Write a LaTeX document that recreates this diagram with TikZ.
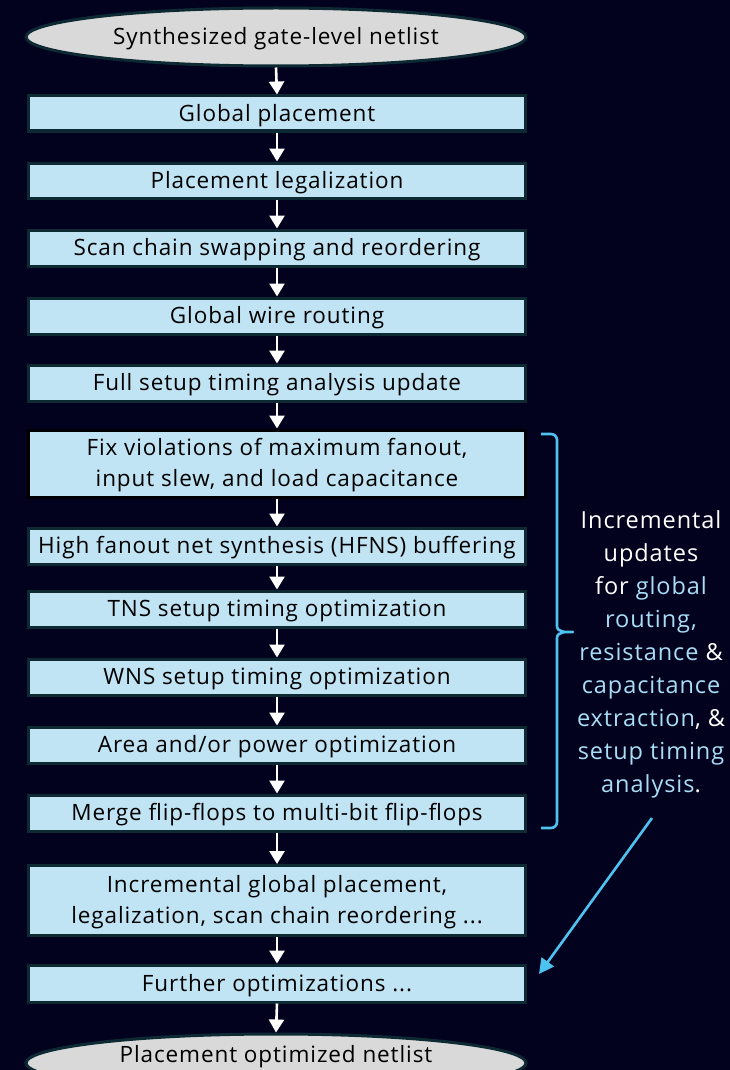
\documentclass[tikz,border=0pt]{standalone}
\usepackage{fontspec}
\setmainfont{Open Sans}[LetterSpace=4]
\usetikzlibrary{arrows.meta,shapes.geometric}
\definecolor{bg}{HTML}{02021F}
\definecolor{boxfill}{HTML}{C0E4F4}
\definecolor{boxline}{HTML}{0D2A34}
\definecolor{ellfill}{HTML}{D9D9D9}
\definecolor{brace}{HTML}{4FC3F0}
\definecolor{lblue}{HTML}{A8DDF5}
\begin{document}
\begin{tikzpicture}[x=1pt,y=-1pt,
  stepbox/.style={draw=boxline,line width=3pt,fill=boxfill,minimum width=497pt,inner sep=0pt,
    font=\fontsize{22.5}{31}\selectfont,text=black,align=center,text depth=1.5pt},
  termnode/.style={ellipse,draw=boxline,line width=3pt,fill=ellfill,minimum width=500pt,minimum height=58pt,
    inner sep=0pt,font=\fontsize{22.5}{24}\selectfont,text=black,text depth=1.5pt},
  flow/.style={draw=white,line width=2.6pt,-{Triangle[width=15pt,length=13pt]}},
  note/.style={font=\fontsize{23.5}{33}\selectfont,text=white,align=center}]
\useasboundingbox (0,0) rectangle (730,1070);
\fill[bg] (0,0) rectangle (730,1070);
\begin{scope}
\clip (0,0) rectangle (730,1070);
\node[termnode] (s) at (276,37) {Synthesized gate-level netlist};
\node[stepbox,minimum height=35pt] (gp) at (277,113.5) {Global placement};
\node[stepbox,minimum height=35pt] (pl) at (277,180.5) {Placement legalization};
\node[stepbox,minimum height=36pt] (sc) at (277,248) {Scan chain swapping and reordering};
\node[stepbox,minimum height=36pt] (gw) at (277,316) {Global wire routing};
\node[stepbox,minimum height=36pt] (fs) at (277,383) {Full setup timing analysis update};
\node[stepbox,draw=black,minimum height=67pt] (fv) at (277,463.5) {Fix violations of maximum fanout,\\input slew, and load capacitance};
\node[stepbox,minimum height=36pt] (hf) at (277,546) {High fanout net synthesis (HFNS) buffering};
\node[stepbox,minimum height=36pt] (tn) at (277,609) {TNS setup timing optimization};
\node[stepbox,minimum height=36pt] (wn) at (277,677) {WNS setup timing optimization};
\node[stepbox,minimum height=36pt] (ar) at (277,745) {Area and/or power optimization};
\node[stepbox,minimum height=36pt] (mg) at (277,813) {Merge flip-flops to multi-bit flip-flops};
\node[stepbox,minimum height=70pt] (in) at (277,900.5) {Incremental global placement,\\legalization, scan chain reordering ...};
\node[stepbox,minimum height=37pt] (fu) at (277,983.5) {Further optimizations ...};
\node[termnode] (e) at (276,1063) {};
\node[font=\fontsize{22.5}{24}\selectfont,text=black,text depth=1.5pt] (et) at (276,1055) {Placement optimized netlist};
\end{scope}
\foreach \a/\b in {s/gp,gp/pl,pl/sc,sc/gw,gw/fs,fs/fv,fv/hf,hf/tn,tn/wn,wn/ar,ar/mg,mg/in,in/fu,fu/e}
  \draw[flow] (\a.south) -- (\b.north);
% brace
\coordinate (bt) at (541,434);
\coordinate (bb) at (541,828);
\coordinate (bm) at (573,632);
\draw[brace,line width=2.6pt,line join=round]
  (bt) -- (551,434) to[out=0,in=90] (557,440) -- (557,626) to[out=-90,in=180] (bm)
  to[out=180,in=90] (557,638) -- (557,822) to[out=-90,in=0] (551,828) -- (bb);
\node[note] (t) at (651,654) {Incremental\\updates\\for \textcolor{lblue}{global}\\\textcolor{lblue}{routing,}\\\textcolor{lblue}{resistance} \&\\\textcolor{lblue}{capacitance}\\\textcolor{lblue}{extraction}, \&\\\textcolor{lblue}{setup timing}\\\textcolor{lblue}{analysis}.};
\coordinate (as) at (652,818);
\coordinate (ae) at (539,974);
\draw[brace,line width=2.6pt,-{Triangle[width=15pt,length=15pt]}] (as) -- (ae);
\end{tikzpicture}
\end{document}
